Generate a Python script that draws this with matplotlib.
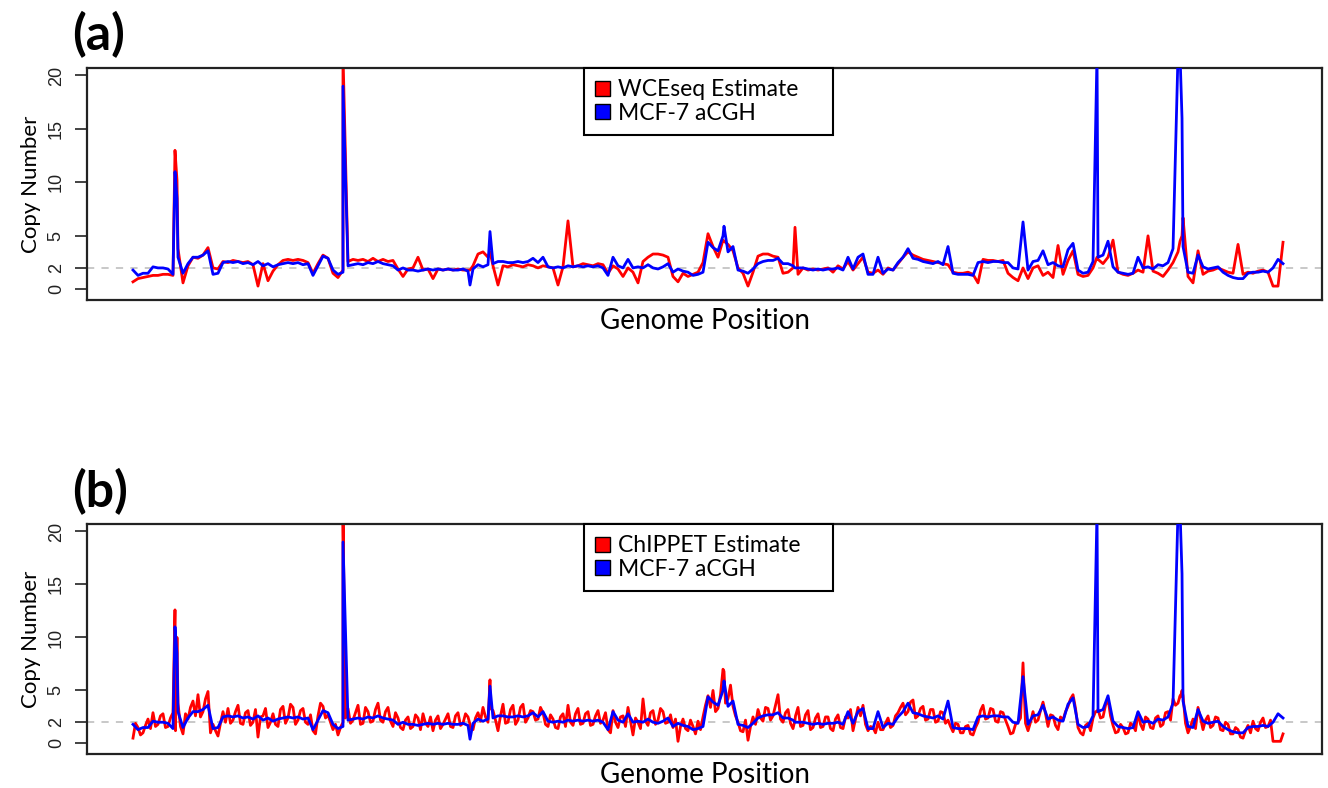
import numpy as np
import matplotlib
matplotlib.use("Agg")
import matplotlib.pyplot as plt
from matplotlib.patches import Patch

plt.rcParams['font.family'] = ['Lato', 'DejaVu Sans']

# genome bins: every 5 units for aCGH / WCEseq, every 2.5 units for ChIPPET
positions = np.arange(0, 1151, 5)
chippet_positions = np.arange(0, 1150.1, 2.5)

# MCF-7 aCGH copy number (shared by both panels)
acgh = [
    1.8, 1.3, 1.5, 1.5, 2.1, 2.0, 2.0, 1.9, 1.4, 3.0,
    1.5, 2.4, 3.0, 3.0, 3.2, 3.6, 1.4, 1.5, 2.5, 2.6,
    2.5, 2.6, 2.4, 2.5, 2.3, 2.6, 2.2, 2.4, 2.1, 2.3,
    2.4, 2.5, 2.4, 2.5, 2.3, 2.4, 1.3, 2.2, 3.1, 2.9,
    1.8, 1.4, 1.6, 2.2, 2.3, 2.4, 2.3, 2.5, 2.4, 2.6,
    2.4, 2.3, 2.2, 1.8, 2.0, 1.8, 1.8, 1.7, 1.8, 1.9,
    1.8, 1.9, 1.8, 1.9, 1.8, 1.8, 1.9, 1.7, 1.9, 2.3,
    2.1, 2.3, 2.4, 2.6, 2.6, 2.5, 2.5, 2.6, 2.5, 2.6,
    2.9, 2.5, 3.0, 2.1, 2.0, 2.1, 2.0, 2.2, 2.1, 2.2,
    2.1, 2.2, 2.1, 2.2, 2.0, 1.3, 3.0, 2.2, 2.0, 2.8,
    2.0, 2.1, 2.0, 2.3, 2.0, 1.9, 2.1, 2.4, 1.6, 1.9,
    1.7, 1.6, 1.3, 1.4, 1.6, 4.4, 3.9, 3.6, 5.0, 3.5,
    4.0, 1.8, 1.7, 1.5, 1.9, 2.4, 2.6, 2.7, 2.7, 2.9,
    2.4, 2.4, 2.2, 2.0, 2.0, 1.9, 1.8, 1.9, 1.8, 1.9,
    1.9, 2.0, 1.8, 3.0, 1.9, 3.0, 3.3, 1.4, 1.4, 3.0,
    1.5, 1.9, 1.8, 2.5, 3.0, 3.8, 2.9, 2.8, 2.6, 2.5,
    2.4, 2.6, 2.3, 4.0, 1.5, 1.4, 1.4, 1.4, 1.3, 2.5,
    2.6, 2.5, 2.6, 2.6, 2.5, 2.5, 2.0, 1.9, 6.3, 1.8,
    2.6, 2.7, 3.6, 2.3, 2.5, 2.2, 2.1, 3.7, 4.3, 1.8,
    1.5, 1.6, 2.6, 3.0, 3.2, 4.5, 2.1, 1.6, 1.5, 1.4,
    1.5, 3.0, 2.0, 2.1, 1.9, 2.3, 2.2, 2.5, 3.8, 22.0,
    4.0, 1.6, 1.5, 3.2, 2.1, 1.9, 2.0, 2.1, 1.6, 1.3,
    1.1, 1.0, 1.0, 1.5, 1.6, 1.6, 1.7, 1.6, 2.0, 2.8,
    2.4,
]

# WCEseq estimate (panel a)
wceseq = [
    0.7, 1.0, 1.1, 1.2, 1.3, 1.3, 1.4, 1.4, 1.3, 3.8,
    0.6, 2.2, 3.0, 2.9, 3.2, 3.9, 2.0, 1.9, 2.6, 2.5,
    2.7, 2.6, 2.5, 2.6, 2.3, 0.3, 2.4, 0.8, 1.7, 2.3,
    2.7, 2.8, 2.7, 2.8, 2.7, 2.5, 1.5, 2.4, 3.2, 2.9,
    1.5, 1.1, 1.8, 2.6, 2.8, 2.7, 2.8, 2.6, 2.9, 2.6,
    2.8, 2.6, 2.7, 1.9, 1.2, 1.9, 2.0, 3.0, 1.8, 1.9,
    1.0, 1.9, 1.8, 1.9, 1.8, 1.9, 1.8, 1.8, 2.2, 3.3,
    3.5, 3.0, 2.2, 0.4, 2.2, 2.1, 2.3, 2.2, 2.1, 2.3,
    2.2, 2.0, 2.2, 2.1, 2.0, 0.4, 2.1, 6.4, 2.1, 2.2,
    2.4, 2.3, 2.2, 2.4, 2.3, 1.5, 2.2, 1.9, 1.2, 2.0,
    1.6, 0.6, 2.6, 3.0, 3.3, 3.3, 3.2, 3.0, 1.2, 0.7,
    1.5, 1.2, 1.4, 1.6, 2.5, 5.2, 4.0, 3.0, 4.6, 4.2,
    3.6, 2.0, 1.5, 0.3, 1.6, 3.1, 3.3, 3.3, 3.1, 3.0,
    1.5, 1.6, 2.0, 1.4, 2.0, 1.8, 1.9, 1.8, 1.9, 2.0,
    1.6, 2.2, 1.9, 2.6, 1.8, 2.4, 3.0, 1.6, 1.5, 1.8,
    1.4, 2.0, 1.8, 2.4, 3.0, 3.5, 3.2, 3.0, 2.8, 2.7,
    2.6, 2.5, 2.4, 2.3, 1.6, 1.5, 1.5, 1.6, 1.4, 0.6,
    2.8, 2.7, 2.7, 2.6, 2.7, 1.5, 1.1, 0.8, 2.0, 1.0,
    2.0, 2.2, 1.3, 1.6, 1.1, 4.1, 1.4, 2.7, 3.6, 1.4,
    1.2, 1.3, 2.0, 2.8, 2.4, 3.0, 4.6, 1.6, 1.4, 1.3,
    1.5, 1.8, 1.6, 5.0, 1.7, 1.5, 1.2, 1.8, 2.5, 3.5,
    6.7, 1.2, 0.6, 3.6, 1.4, 1.7, 1.8, 2.0, 1.8, 1.6,
    1.5, 4.2, 1.4, 1.6, 1.5, 1.7, 1.8, 1.6, 0.3, 0.3,
    4.4,
]

# ChIPPET estimate (panel b), finer bins
chippet = [
    0.5, 1.9, 1.5, 0.8, 1.0, 1.7, 2.3, 1.4, 2.9, 1.6, 1.8, 2.6, 2.8, 1.5, 1.6, 2.4, 2.9, 1.2, 3.8, 1.6,
    0.9, 2.8, 2.3, 3.4, 4.0, 2.6, 4.6, 2.5, 3.0, 4.2, 4.9, 1.0, 1.8, 1.2, 0.7, 1.9, 3.0, 2.0, 3.3, 1.9,
    2.2, 3.0, 3.6, 1.9, 1.8, 2.9, 3.1, 1.7, 2.0, 3.2, 0.6, 2.5, 2.6, 3.3, 1.5, 2.0, 2.8, 1.8, 1.6, 3.2,
    3.5, 1.9, 2.4, 3.7, 3.4, 1.8, 2.2, 3.1, 3.3, 2.0, 1.8, 2.7, 1.2, 0.9, 2.6, 3.8, 3.5, 2.4, 2.7, 2.0,
    1.3, 1.8, 0.8, 1.5, 2.0, 2.4, 3.3, 1.9, 2.2, 2.9, 3.6, 1.8, 1.9, 3.4, 3.0, 2.0, 2.1, 3.2, 3.8, 2.2,
    2.0, 3.0, 3.4, 2.1, 1.6, 2.9, 2.4, 1.5, 1.3, 2.2, 2.5, 1.4, 1.6, 2.7, 2.4, 1.3, 2.8, 1.9, 1.6, 2.5,
    1.2, 2.2, 2.6, 1.4, 1.8, 2.3, 2.8, 1.6, 1.5, 2.6, 2.9, 1.7, 1.9, 2.8, 2.5, 1.4, 1.3, 2.4, 2.9, 2.1,
    3.4, 2.5, 2.0, 3.3, 3.1, 2.2, 1.2, 2.6, 3.7, 1.9, 2.0, 3.2, 3.6, 1.8, 2.2, 3.4, 3.7, 2.0, 2.4, 3.1,
    3.0, 2.2, 2.3, 3.4, 2.9, 1.8, 1.6, 2.7, 2.3, 1.5, 1.4, 2.5, 2.8, 1.6, 3.6, 2.0, 1.7, 2.8, 3.3, 1.8,
    1.9, 2.8, 3.0, 1.7, 1.8, 2.6, 3.1, 1.9, 2.2, 2.9, 1.3, 1.0, 3.1, 2.0, 1.5, 2.5, 2.6, 1.6, 3.4, 2.1,
    0.8, 2.4, 2.0, 1.4, 4.2, 2.1, 1.7, 2.9, 3.1, 1.8, 2.2, 3.3, 3.0, 1.9, 2.0, 2.7, 1.5, 2.3, 0.2, 1.6,
    2.3, 1.4, 1.2, 2.2, 1.6, 0.9, 2.1, 1.3, 2.5, 3.6, 4.5, 3.4, 5.0, 3.0, 3.3, 4.6, 7.0, 3.8, 4.2, 5.5,
    3.5, 2.6, 2.0, 1.2, 1.1, 2.2, 0.3, 1.6, 2.5, 1.8, 3.2, 2.4, 2.1, 3.4, 3.3, 2.2, 2.6, 3.6, 4.6, 2.3,
    2.0, 2.9, 3.2, 1.9, 1.4, 2.6, 3.4, 1.6, 1.7, 2.7, 3.1, 1.3, 1.5, 2.4, 2.8, 1.5, 1.6, 2.5, 2.5, 1.4,
    1.2, 2.3, 2.7, 1.5, 1.4, 2.5, 2.4, 3.2, 1.2, 2.3, 3.4, 2.6, 3.6, 1.8, 1.2, 1.6, 1.5, 1.0, 2.0, 1.3,
    1.3, 1.9, 2.4, 1.5, 1.7, 2.6, 2.9, 3.4, 3.8, 2.7, 3.0, 3.9, 4.1, 2.4, 2.6, 3.3, 3.5, 2.2, 2.3, 3.2,
    3.2, 2.0, 2.1, 3.0, 2.9, 1.9, 2.2, 1.6, 1.1, 1.9, 1.8, 1.0, 1.0, 1.6, 1.7, 0.9, 0.8, 1.5, 2.0, 3.1,
    3.6, 2.3, 2.4, 3.3, 3.2, 2.1, 2.0, 3.0, 2.9, 2.2, 1.6, 0.9, 1.0, 1.8, 2.0, 2.4, 7.6, 1.9, 1.2, 2.0,
    3.0, 2.0, 2.2, 3.1, 3.9, 2.8, 1.6, 2.7, 2.6, 1.7, 1.3, 2.5, 2.2, 3.0, 3.5, 4.2, 4.6, 3.3, 1.5, 1.0,
    0.8, 1.7, 1.9, 1.2, 2.4, 3.0, 3.2, 2.4, 2.5, 3.6, 4.2, 2.6, 1.7, 1.0, 1.1, 1.8, 1.5, 0.9, 1.0, 1.9,
    1.7, 1.2, 2.9, 1.8, 1.3, 2.5, 2.3, 1.5, 1.4, 2.4, 2.6, 1.6, 1.8, 2.9, 3.0, 2.2, 4.2, 3.6, 3.8, 4.4,
    4.5, 1.9, 1.0, 1.6, 2.3, 1.4, 3.4, 2.4, 1.3, 2.2, 2.6, 1.5, 1.7, 2.5, 2.4, 1.3, 1.2, 2.0, 1.8, 0.9,
    0.9, 1.5, 1.3, 0.6, 0.5, 1.2, 1.7, 1.0, 2.1, 1.4, 1.2, 2.0, 2.4, 1.5, 1.6, 2.2, 0.2, 0.2, 0.2, 0.2,
    0.9,
]

# narrow amplifications / deletions between the bins
spike_pos = [42, 44, 210, 337, 357, 591, 662, 964, 1047, 1049]
spike_acgh = [11.0, 8.5, 19.0, 0.4, 5.4, 5.9, 2.0, 22.0, 22.0, 16.0]
spike_wceseq = [13.0, 10.2, 22.0, 1.8, 3.5, 4.5, 5.8, 3.0, 4.5, 5.0]
spike_chippet = [12.6, 10.0, 22.0, 1.8, 6.0, 6.8, 2.2, 3.0, 4.5, 5.0]


def merged(pos, values, spikes):
    xs = np.concatenate([pos, spike_pos])
    ys = np.concatenate([values, spikes])
    order = np.argsort(xs, kind='stable')
    return xs[order], ys[order]


blue_x, blue_y = merged(positions, acgh, spike_acgh)
panels = [
    ('(a)', 'WCEseq Estimate', merged(positions, wceseq, spike_wceseq)),
    ('(b)', 'ChIPPET Estimate', merged(chippet_positions, chippet, spike_chippet)),
]

fig = plt.figure(figsize=(13.28, 7.88), dpi=100)
rects = [[0.0655, 0.6193, 0.930, 0.2944], [0.0655, 0.0431, 0.930, 0.2919]]
tag_y = [0.956, 0.376]

for rect, ty, (tag, label, (red_x, red_y)) in zip(rects, tag_y, panels):
    ax = fig.add_axes(rect)
    ax.axhline(2, color='#c4c4c4', lw=1.3, ls=(0, (4, 4)), zorder=1)
    ax.plot(red_x, red_y, color='#ff0000', lw=2.0, zorder=2)
    ax.plot(blue_x, blue_y, color='#0000ff', lw=2.0, zorder=3)

    ax.set_xlim(-46, 1189)
    ax.set_ylim(-1.0, 20.7)
    ax.set_xticks([])
    ax.set_yticks([0, 2, 5, 10, 15, 20])
    ax.set_yticklabels(['0', '2', '5', '10', '15', '20'], rotation=90, va='center',
                       family=['Liberation Sans Narrow', 'Liberation Sans', 'DejaVu Sans'])
    ax.tick_params(axis='y', length=9, width=1.2, pad=7, labelsize=13, colors='#222222')
    for sp in ax.spines.values():
        sp.set_linewidth(1.6)
        sp.set_color('#222222')

    ax.set_ylabel('Copy Number', fontsize=16)
    ax.yaxis.set_label_coords(-0.037, 0.5)
    ax.set_xlabel('Genome Position', fontsize=20, labelpad=6)

    handles = [Patch(facecolor='#ff0000', edgecolor='black', lw=1.0),
               Patch(facecolor='#0000ff', edgecolor='black', lw=1.0)]
    leg = ax.legend(handles, [label, 'MCF-7 aCGH'], loc='upper left',
                    bbox_to_anchor=(0.4024, 0.0, 0.2016, 1.0), mode='expand',
                    borderaxespad=0, fontsize=16.5, handlelength=0.65, handleheight=0.65,
                    handletextpad=0.35, labelspacing=0.1, borderpad=0.5,
                    fancybox=False, edgecolor='black', framealpha=1)
    leg.get_frame().set_linewidth(1.5)

    fig.text(0.054, ty, tag, fontsize=36, fontweight='bold', va='center', ha='left')

fig.savefig('out.png', dpi=100)
